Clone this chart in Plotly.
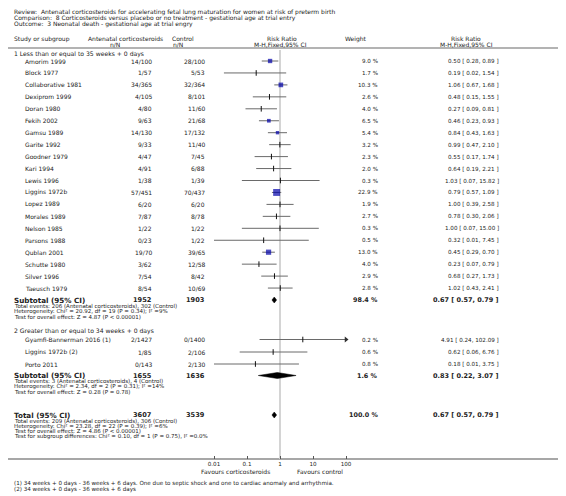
import math
import plotly.graph_objects as go

W, H = 566, 496
OFF = 8  # default page margin of the browser body

# ---------------- data ----------------
title_lines = [
    "Review:  Antenatal corticosteroids for accelerating fetal lung maturation for women at risk of preterm birth",
    "Comparison:  8 Corticosteroids versus placebo or no treatment - gestational age at trial entry",
    "Outcome:  3 Neonatal death - gestational age at trial engry",
]

group_titles = ["1 Less than or equal to 35 weeks + 0 days",
                "2 Greater than or equal to 34 weeks + 0 days"]

studies1 = ["Amorim 1999", "Block 1977", "Collaborative 1981", "Dexiprom 1999", "Doran 1980",
            "Fekih 2002", "Gamsu 1989", "Garite 1992", "Goodner 1979", "Kari 1994",
            "Lewis 1996", "Liggins 1972b", "Lopez 1989", "Morales 1989", "Nelson 1985",
            "Parsons 1988", "Qublan 2001", "Schutte 1980", "Silver 1996", "Taeusch 1979"]
treat1 = ["14/100", "1/57", "34/365", "4/105", "4/80", "9/63", "14/130", "9/33", "4/47", "4/91",
          "1/38", "57/451", "6/20", "7/87", "1/22", "0/23", "19/70", "3/62", "7/54", "8/54"]
ctrl1 = ["28/100", "5/53", "32/364", "8/101", "11/60", "21/68", "17/132", "11/40", "7/45", "6/88",
         "1/39", "70/437", "6/20", "8/78", "1/22", "1/22", "39/65", "12/58", "8/42", "10/69"]
weight1 = [9.0, 1.7, 10.3, 2.6, 4.0, 6.5, 5.4, 3.2, 2.3, 2.0,
           0.3, 22.9, 1.9, 2.7, 0.3, 0.5, 13.0, 4.0, 2.9, 2.8]
rr1 = [0.50, 0.19, 1.06, 0.48, 0.27, 0.46, 0.84, 0.99, 0.55, 0.64,
       1.03, 0.79, 1.00, 0.78, 1.00, 0.32, 0.45, 0.23, 0.68, 1.02]
lo1 = [0.28, 0.02, 0.67, 0.15, 0.09, 0.23, 0.43, 0.47, 0.17, 0.19,
       0.07, 0.57, 0.39, 0.30, 0.07, 0.01, 0.29, 0.07, 0.27, 0.43]
hi1 = [0.89, 1.54, 1.68, 1.55, 0.81, 0.93, 1.63, 2.10, 1.74, 2.21,
       15.82, 1.09, 2.58, 2.06, 15.00, 7.45, 0.70, 0.79, 1.73, 2.41]

studies2 = ["Gyamfi-Bannerman 2016 (1)", "Liggins 1972b (2)", "Porto 2011"]
treat2 = ["2/1427", "1/85", "0/143"]
ctrl2 = ["0/1400", "2/106", "2/130"]
weight2 = [0.2, 0.6, 0.8]
rr2 = [4.91, 0.62, 0.18]
lo2 = [0.24, 0.06, 0.01]
hi2 = [102.09, 6.76, 3.75]

# pooled: [treat N, control N, weight, rr, lo, hi]
sub1 = ["1952", "1903", 98.4, 0.67, 0.57, 0.79]
sub2 = ["1655", "1636", 1.6, 0.83, 0.22, 3.07]
total = ["3607", "3539", 100.0, 0.67, 0.57, 0.79]

sub1_notes = ["Total events: 206 (Antenatal corticosteroids), 302 (Control)",
              "Heterogeneity: Chi² = 20.92, df = 19 (P = 0.34); I² =9%",
              "Test for overall effect: Z = 4.87 (P &lt; 0.00001)"]
sub2_notes = ["Total events: 3 (Antenatal corticosteroids), 4 (Control)",
              "Heterogeneity: Chi² = 2.34, df = 2 (P = 0.31); I² =14%",
              "Test for overall effect: Z = 0.28 (P = 0.78)"]
total_notes = ["Total events: 209 (Antenatal corticosteroids), 306 (Control)",
               "Heterogeneity: Chi² = 23.28, df = 22 (P = 0.39); I² =6%",
               "Test for overall effect: Z = 4.86 (P &lt; 0.00001)",
               "Test for subgroup differences: Chi² = 0.10, df = 1 (P = 0.75), I² =0.0%"]

footnotes = ["(1) 34 weeks + 0 days - 36 weeks + 6 days. One due to septic shock and one to cardiac anomaly and arrhythmia.",
             "(2) 34 weeks + 0 days - 36 weeks + 6 days"]

tick_vals = [0.01, 0.1, 1, 10, 100]
tick_text = ["0.01", "0.1", "1", "10", "100"]

# ---------------- layout constants (screen pixels) ----------------
FW, FH = W - OFF, H - OFF
FONT = "DejaVu Sans"
TXT = "#222222"
BLUE = "#0000a8"
PX_PER_DEC = 33.0
NULL_X = 280.0
PLOT_L, PLOT_R = 180.0, 380.0
X_TREAT, X_CTRL, X_W, X_RR = 153, 206, 379, 500

y_titles = [12, 18, 24]
y_head1, y_head2 = 38.5, 44
y_sep = 48
y_g1 = 54
y_s1 = [61 + 11.95 * i for i in range(len(studies1))]
y_sub1 = 300
y_sub1_notes = [306, 311.5, 317]
y_g2 = 331
y_s2 = [339.5, 352, 364]
y_sub2 = 375.5
y_sub2_notes = [381, 386.5, 392]
y_tot = 415
y_tot_notes = [421, 426, 431, 436]
y_axis = 459
y_fav = 471
y_foot = [483, 489.5]

fig = go.Figure()


def px(x):
    return (x - OFF) / FW


def txt(x, y, s, anchor="left", size=6, bold=False, color=TXT):
    fig.add_annotation(x=px(x), y=y, xref="paper", yref="y", text=("<b>%s</b>" % s if bold else s),
                       showarrow=False, xanchor=anchor, yanchor="middle", borderpad=0,
                       font=dict(size=size, family=FONT, color=color))


HS = 6.0
# titles
for yy, s in zip(y_titles, title_lines):
    txt(13, yy, s, size=6.0)

# headers
txt(13, y_head1, "Study or subgroup", size=HS)
txt(87, y_head1, "Antenatal corticosteroids", size=HS)
txt(171, y_head1, "Control", size=HS)
txt(115, y_head2, "n/N", anchor="center", size=HS)
txt(178, y_head2, "n/N", anchor="center", size=HS)
txt(282, y_head1, "Risk Ratio", anchor="center", size=HS)
txt(280, y_head2, "M-H,Fixed,95% CI", anchor="center", size=HS)
txt(356, y_head1, "Weight", anchor="center", size=HS)
txt(466, y_head1, "Risk Ratio", anchor="center", size=HS)
txt(466, y_head2, "M-H,Fixed,95% CI", anchor="center", size=HS)

# group titles
txt(13, y_g1, group_titles[0], size=6.1)
txt(13, y_g2, group_titles[1], size=6.1)


def study_rows(names, tr, ct, wt, rr, lo, hi, ys):
    for n, a, b, w, r, l, h, yy in zip(names, tr, ct, wt, rr, lo, hi, ys):
        txt(24, yy, n, size=6)
        txt(X_TREAT, yy, a, anchor="right", size=6)
        txt(X_CTRL, yy, b, anchor="right", size=6)
        txt(X_W, yy, "%.1f %%" % w, anchor="right", size=5.6)
        txt(X_RR, yy, "%.2f [ %.2f, %.2f ]" % (r, l, h), anchor="right", size=5.6)


study_rows(studies1, treat1, ctrl1, weight1, rr1, lo1, hi1, y_s1)
study_rows(studies2, treat2, ctrl2, weight2, rr2, lo2, hi2, y_s2)


def pooled_row(label, p, yy, notes, ys_notes):
    txt(13, yy, label, size=7.2, bold=True)
    txt(X_TREAT, yy, p[0], anchor="right", size=6.6, bold=True)
    txt(X_CTRL, yy, p[1], anchor="right", size=6.6, bold=True)
    txt(X_W, yy, "%.1f %%" % p[2], anchor="right", size=6.4, bold=True)
    txt(X_RR, yy, "%.2f [ %.2f, %.2f ]" % (p[3], p[4], p[5]), anchor="right", size=6.5, bold=True)
    for s, y2 in zip(notes, ys_notes):
        txt(13, y2, s, size=5.5)


pooled_row("Subtotal (95% CI)", sub1, y_sub1, sub1_notes, y_sub1_notes)
pooled_row("Subtotal (95% CI)", sub2, y_sub2, sub2_notes, y_sub2_notes)
pooled_row("Total (95% CI)", total, y_tot, total_notes, y_tot_notes)

txt(235, y_fav, "Favours corticosteroids", anchor="center", size=6)
txt(320, y_fav, "Favours control", anchor="center", size=6)
for s, yy in zip(footnotes, y_foot):
    txt(13, yy, s, size=5.6)

# ---------------- forest plot ----------------
XMAX = 10 ** ((PLOT_R - NULL_X) / PX_PER_DEC)
XMIN = 10 ** ((PLOT_L - NULL_X) / PX_PER_DEC)
CLIP_HI = 100.0
CLIP_LO = 0.01

all_lo = lo1 + lo2
all_hi = hi1 + hi2
all_rr = rr1 + rr2
all_w = weight1 + weight2
all_y = y_s1 + y_s2

lx, ly = [], []
for l, h, yy in zip(all_lo, all_hi, all_y):
    lx += [max(l, CLIP_LO), min(h, CLIP_HI), None]
    ly += [yy, yy, None]
fig.add_trace(go.Scatter(x=lx, y=ly, mode="lines", line=dict(color="#6a6a6a", width=1),
                         hoverinfo="skip", xaxis="x", yaxis="y"))

# arrows for CIs beyond axis
ax_, ay_ = [], []
for h, yy in zip(all_hi, all_y):
    if h > CLIP_HI:
        ax_.append(CLIP_HI)
        ay_.append(yy)
fig.add_trace(go.Scatter(x=ax_, y=ay_, mode="markers",
                         marker=dict(symbol="triangle-right", size=5, color="#303030"),
                         hoverinfo="skip", xaxis="x", yaxis="y"))

# small studies: tick
tx = [r for r, w in zip(all_rr, all_w) if w < 5]
ty = [yy for yy, w in zip(all_y, all_w) if w < 5]
fig.add_trace(go.Scatter(x=tx, y=ty, mode="markers",
                         marker=dict(symbol="line-ns", size=4, line=dict(color="#111111", width=1)),
                         hoverinfo="skip", xaxis="x", yaxis="y"))
# bigger: squares
bx = [r for r, w in zip(all_rr, all_w) if w >= 5]
by = [yy for yy, w in zip(all_y, all_w) if w >= 5]
bs = [1.45 * math.sqrt(w) for w in all_w if w >= 5]
fig.add_trace(go.Scatter(x=bx, y=by, mode="markers",
                         marker=dict(symbol="square", size=bs, color=BLUE, line=dict(width=0)),
                         hoverinfo="skip", xaxis="x", yaxis="y"))

# diamonds
for p, yy in [(sub1, y_sub1), (sub2, y_sub2), (total, y_tot)]:
    fig.add_trace(go.Scatter(x=[p[4], p[3], p[5], p[3], p[4]],
                             y=[yy, yy - 3, yy, yy + 3, yy],
                             mode="lines", fill="toself", fillcolor="#000000",
                             line=dict(color="#000000", width=0.5),
                             hoverinfo="skip", xaxis="x", yaxis="y"))

# null line
fig.add_shape(type="line", xref="x", yref="y", x0=1, x1=1, y0=50, y1=y_axis,
              line=dict(color="#d4d4d4", width=2), layer="below")
# separators
fig.add_shape(type="line", xref="paper", yref="y", x0=0, x1=1, y0=y_sep, y1=y_sep,
              line=dict(color="#9a9a9a", width=1.5), layer="below")
fig.add_shape(type="line", xref="paper", yref="y", x0=0, x1=1, y0=y_axis, y1=y_axis,
              line=dict(color="#8a8a8a", width=1.5), layer="below")

fig.update_layout(
    width=FW, height=FH, autosize=False,
    margin=dict(l=0, r=0, t=0, b=0),
    paper_bgcolor="white", plot_bgcolor="rgba(0,0,0,0)",
    showlegend=False,
    xaxis=dict(type="log", domain=[px(PLOT_L), px(PLOT_R)],
               range=[math.log10(XMIN), math.log10(XMAX)],
               anchor="free", position=(H - y_axis) / FH,
               showgrid=False, zeroline=False, showline=False,
               ticks="inside", ticklen=3, tickwidth=1, tickcolor="#555555",
               tickvals=tick_vals, ticktext=tick_text,
               tickfont=dict(size=5.6, family=FONT, color=TXT)),
    yaxis=dict(range=[H, OFF], domain=[0, 1], visible=False),
)

fig.write_html("out.html")
